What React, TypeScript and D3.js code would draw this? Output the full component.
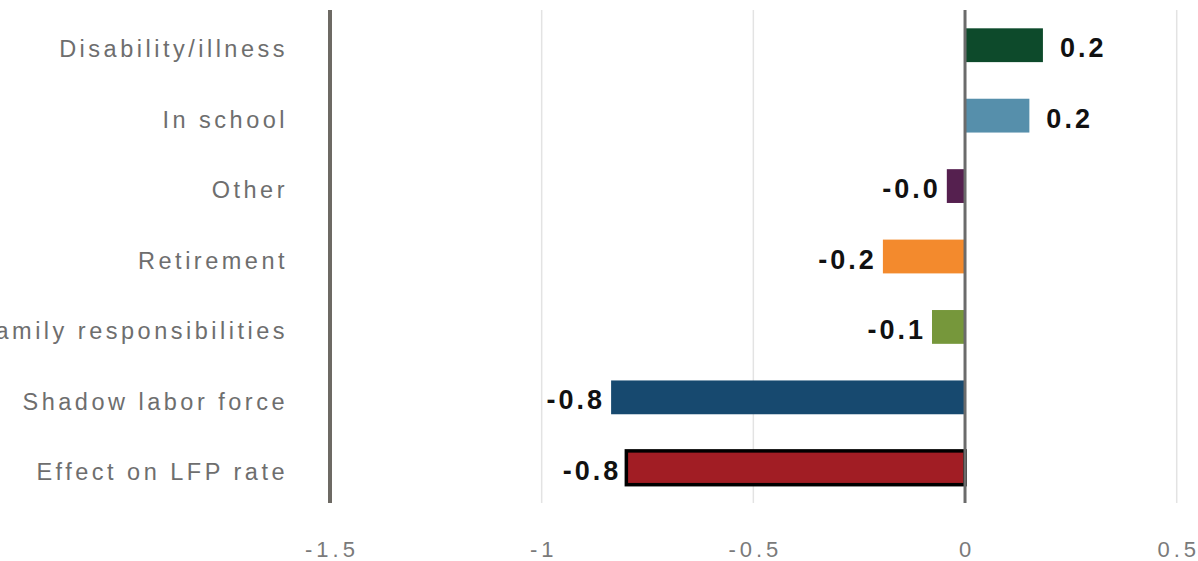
import React from "react";
import * as d3 from "d3";

// Contribution of each reason for non-participation to the change in the LFP rate
const categories = [
  "Disability/illness",
  "In school",
  "Other",
  "Retirement",
  "Family responsibilities",
  "Shadow labor force",
  "Effect on LFP rate",
];
const values = [0.184, 0.152, -0.043, -0.194, -0.078, -0.836, -0.8];
const barColors = ["#0d4a2b", "#568fab", "#55204f", "#f38a2d", "#76973b", "#17496f", "#a11d24"];
const xTicks = [-1.5, -1, -0.5, 0, 0.5];
const xTickLabels = ["-1.5", "-1", "-0.5", "0", "0.5"];

const W = 1198;
const H = 561;

export default function App() {
  const x = d3.scaleLinear().domain([-1.5, 0.5]).range([330, 1176.7]);
  const y = d3.scaleBand<string>().domain(categories).range([10, 503]).paddingInner(0.52).paddingOuter(0.26);
  const font = "'Liberation Sans', Arial, sans-serif";
  const fmt = (v: number) => (v < 0 ? "-" : "") + Math.abs(v).toFixed(1);

  return (
    <svg
      width={W}
      height={H}
      style={{ position: "absolute", left: 0, top: 0, background: "#fff" }}
      fontFamily={font}
    >
      {/* vertical gridlines */}
      {xTicks
        .filter((t) => t !== 0 && t !== -1.5)
        .map((t) => (
          <line key={t} x1={x(t)} x2={x(t)} y1={10} y2={503} stroke="#e3e3e3" strokeWidth={1.5} />
        ))}
      {/* left axis line */}
      <line x1={x(-1.5)} x2={x(-1.5)} y1={10} y2={503} stroke="#6d6a64" strokeWidth={4} />

      {/* bars */}
      {categories.map((c, i) => {
        const v = values[i];
        const x0 = x(Math.min(0, v));
        const w = Math.abs(x(v) - x(0));
        const isTotal = i === categories.length - 1;
        return (
          <rect
            key={c}
            x={x0}
            y={y(c)!}
            width={w}
            height={y.bandwidth()}
            fill={barColors[i]}
            stroke={isTotal ? "#000" : "none"}
            strokeWidth={isTotal ? 3.5 : 0}
          />
        );
      })}

      {/* zero line */}
      <line x1={x(0)} x2={x(0)} y1={10} y2={503} stroke="#6b6b6b" strokeWidth={3} />

      {/* value labels */}
      {categories.map((c, i) => {
        const v = values[i];
        const cy = y(c)! + y.bandwidth() / 2 + 5;
        const isTotal = i === categories.length - 1;
        const pos = v >= 0;
        const gap = isTotal ? 8 : 9;
        return (
          <text
            key={c}
            x={pos ? x(v) + 17 : x(v) - gap + 3}
            y={cy}
            textAnchor={pos ? "start" : "end"}
            dominantBaseline="middle"
            fontSize={27}
            fontWeight="bold"
            letterSpacing={3}
            fill="#111"
          >
            {fmt(v)}
          </text>
        );
      })}

      {/* category labels */}
      {categories.map((c) => (
        <text
          key={c}
          x={288}
          y={y(c)! + y.bandwidth() / 2 + 6}
          textAnchor="end"
          dominantBaseline="middle"
          fontSize={23.5}
          letterSpacing={3.5}
          fill="#6e6e6e"
        >
          {c}
        </text>
      ))}

      {/* x tick labels */}
      {xTicks.map((t, i) => (
        <text
          key={t}
          x={x(t) + 2}
          y={551}
          textAnchor="middle"
          dominantBaseline="middle"
          fontSize={22}
          letterSpacing={4}
          fill="#7a7a7a"
        >
          {xTickLabels[i]}
        </text>
      ))}
    </svg>
  );
}
